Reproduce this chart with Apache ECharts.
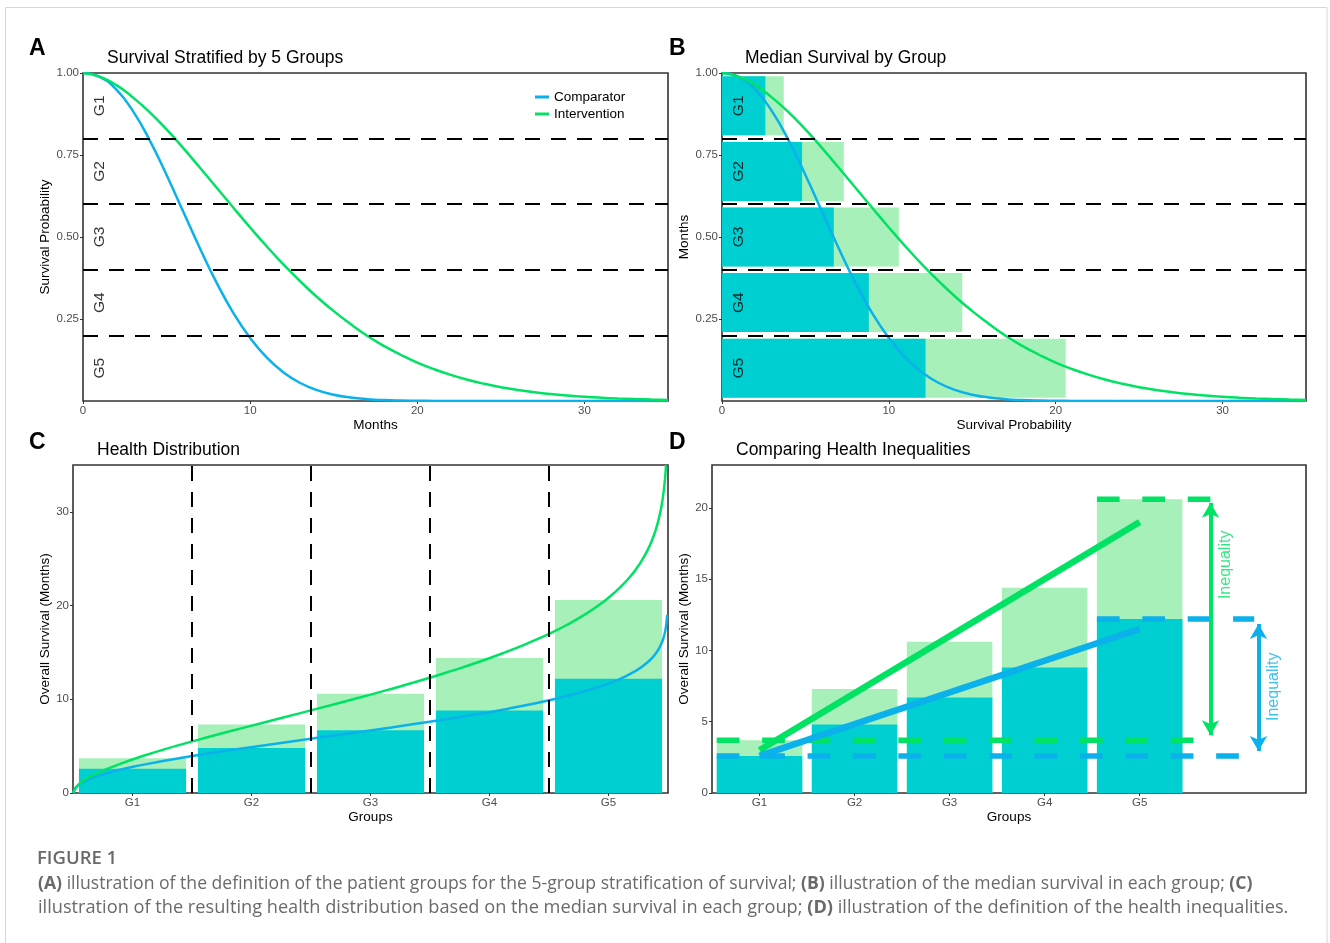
<!DOCTYPE html>
<html><head><meta charset="utf-8">
<script src="https://cdn.jsdelivr.net/npm/echarts@6/dist/echarts.min.js"></script>
<style>html,body{margin:0;padding:0;background:#fff}#c{width:1330px;height:943px}</style>
</head><body><div id="c"></div>
<script>
// ---------------- data ----------------
const groups = ['G1', 'G2', 'G3', 'G4', 'G5'];
const groupPos = [1, 2, 3, 4, 5];
const comparatorMedian = [2.6, 4.8, 6.7, 8.8, 12.2];
const interventionMedian = [3.7, 7.3, 10.6, 14.4, 20.6];
const months = [0,1,2,3,4,5,6,7,8,9,10,11,12,13,14,15,16,17,18,19,20,21,22,23,24,25,26,27,28,29,30,31,32,33,34,35];
const comparatorSurv = [1, 0.988, 0.949, 0.883, 0.794, 0.689, 0.577, 0.465, 0.360, 0.268, 0.192, 0.132, 0.0869, 0.0549, 0.0332, 0.0193, 0.0107, 0.0057, 0.0029, 0.0014, 0.0007, 0.0003, 0.0001, 0, 0, 0, 0, 0, 0, 0, 0, 0, 0, 0, 0, 0];
const interventionSurv = [1, 0.989, 0.963, 0.925, 0.880, 0.828, 0.771, 0.711, 0.650, 0.589, 0.529, 0.471, 0.416, 0.365, 0.317, 0.274, 0.235, 0.199, 0.168, 0.141, 0.117, 0.097, 0.0796, 0.0648, 0.0524, 0.0422, 0.0337, 0.0267, 0.0210, 0.0165, 0.0128, 0.0099, 0.0076, 0.0058, 0.0044, 0.0033];
const groupCuts = [0.2, 0.4, 0.6, 0.8];
const groupMid = [0.9, 0.7, 0.5, 0.3, 0.1];
const groupLabelMonth = 1;
const probTicks = [0.25, 0.5, 0.75, 1];
const monthTicks = [0, 10, 20, 30];
const osTicksC = [0, 10, 20, 30];
const osTicksD = [0, 5, 10, 15, 20];
// panel D annotations (data coordinates)
const trendX = [1, 5];
const interventionTrend = [3.0, 19.0];
const comparatorTrend = [2.6, 11.5];
const refStartX = [0.55, 4.55];           // start of low / high reference lines
const interventionRefEnd = [5.58, 5.745]; // end of low / high reference lines
const comparatorRefEnd = [6.06, 6.205];
const arrowX = [5.745, 6.25];             // intervention, comparator
const interventionArrow = [20.35, 4.05];
const comparatorArrow = [11.85, 2.95];
const inequalityText = 'Inequality';
const inequalityX = [5.905, 6.41];
const inequalityY = [16.0, 7.45];

// ---------------- styles ----------------
const FONT = '"Liberation Sans", Arial, Helvetica, sans-serif';
const CAPFONT = '"Open Sans", "Noto Sans", sans-serif';
const CAPCOLOR = '#6a6a6a';
const BLUE = '#0AB1EA', GREEN = '#00E264', CYAN = '#00CFD1', LIGHT = '#A8F0B9';
const tickLabel = { color: '#4d4d4d', fontSize: 11.5, fontFamily: FONT };
const nameStyle = { color: '#000', fontSize: 13.5, fontFamily: FONT };
const tick = { show: true, length: 3, lineStyle: { color: '#333', width: 1 } };
const gridStyle = { show: true, borderColor: '#333', borderWidth: 1.6, backgroundColor: 'transparent' };
const cutDash = [15, 11];
const SMOOTH = 0.5;

function valueAxis(o) {
  return Object.assign({
    type: 'value', axisLine: { show: false }, splitLine: { show: false },
    nameLocation: 'middle', nameTextStyle: nameStyle
  }, o);
}

const survCurve = s => months.map((m, i) => [m, s[i]]);
const distCurve = s => months.filter((m, i) => s[i] > 0.001).map(m => [1 - s[months.indexOf(m)], m]);
const gLabels = groups.map((g, i) => ({ name: g, value: [groupLabelMonth, groupMid[i]] }));

function cutLines(axis) {
  return {
    silent: true, symbol: 'none', label: { show: false }, animation: false,
    lineStyle: { type: cutDash, color: '#000', width: 2 },
    data: groupCuts.map(v => ({ [axis]: v }))
  };
}
function labelSeries(x, y) {
  return {
    type: 'scatter', xAxisIndex: x, yAxisIndex: y, data: gLabels, symbolSize: 1, silent: true,
    itemStyle: { color: 'transparent' },
    label: { show: true, formatter: '{b}', rotate: 90, position: 'inside', color: '#000', fontSize: 15.5, fontFamily: FONT }
  };
}
function barItem(color) {
  return function (params, api) {
    const x = api.value(0), y = api.value(1);
    const p0 = api.coord([x - 0.45, y]);
    const p1 = api.coord([x + 0.45, 0]);
    return { type: 'rect', shape: { x: p0[0], y: p0[1], width: p1[0] - p0[0], height: p1[1] - p0[1] }, style: { fill: color } };
  };
}
function refLine(y, x0, x1, color) {
  return {
    type: 'line', xAxisIndex: 4, yAxisIndex: 4, data: [[x0, y], [x1, y]], symbol: 'none', silent: true,
    lineStyle: { color: color, width: 5.5, type: [22.7, 22.7] }
  };
}
function arrowSeries(x, ends, color) {
  return {
    type: 'line', xAxisIndex: 4, yAxisIndex: 4, data: [], silent: true,
    markLine: {
      silent: true, animation: false, symbol: ['arrow', 'arrow'], symbolSize: [13, 15], label: { show: false },
      lineStyle: { color: color, width: 4, type: 'solid' },
      data: [[{ coord: [x, ends[0]] }, { coord: [x, ends[1]] }]]
    }
  };
}
function ineqLabel(i, color) {
  return {
    type: 'scatter', xAxisIndex: 4, yAxisIndex: 4, data: [[inequalityX[i], inequalityY[i]]], symbolSize: 1, silent: true,
    itemStyle: { color: 'transparent' },
    label: { show: true, formatter: inequalityText, rotate: 90, position: 'inside', color: color, fontSize: 16, fontFamily: FONT }
  };
}
function curve(name, x, y, data, color, extra) {
  return Object.assign({
    type: 'line', name: name, xAxisIndex: x, yAxisIndex: y, data: data, symbol: 'none', smooth: SMOOTH,
    lineStyle: { color: color, width: 2.5 }, itemStyle: { color: color }
  }, extra || {});
}

const option = {
  animation: false,
  backgroundColor: '#fff',
  grid: [
    Object.assign({ left: 83, top: 73, width: 585, height: 328 }, gridStyle),
    Object.assign({ left: 722, top: 73, width: 584, height: 328 }, gridStyle),
    Object.assign({ left: 73, top: 465, width: 595, height: 328 }, gridStyle),
    Object.assign({ left: 712, top: 465, width: 594, height: 328 }, gridStyle)
  ],
  xAxis: [
    valueAxis({ gridIndex: 0, min: 0, max: 35, axisTick: Object.assign({ customValues: monthTicks }, tick),
      axisLabel: Object.assign({ margin: 4, customValues: monthTicks }, tickLabel), name: 'Months', nameGap: 17 }),
    valueAxis({ gridIndex: 1, min: 0, max: 35, axisTick: Object.assign({ customValues: monthTicks }, tick),
      axisLabel: Object.assign({ margin: 4, customValues: monthTicks }, tickLabel), name: 'Survival Probability', nameGap: 17 }),
    { type: 'category', gridIndex: 2, data: groups, axisLine: { show: false }, splitLine: { show: false },
      axisTick: Object.assign({ alignWithLabel: true }, tick), axisLabel: Object.assign({ margin: 4 }, tickLabel),
      name: 'Groups', nameLocation: 'middle', nameGap: 17, nameTextStyle: nameStyle },
    { type: 'value', gridIndex: 2, min: 0, max: 1, show: false },
    valueAxis({ gridIndex: 3, min: 0.5, max: 6.75, axisTick: Object.assign({ customValues: groupPos }, tick),
      axisLabel: Object.assign({ margin: 4, customValues: groupPos, formatter: v => groups[Math.round(v) - 1] }, tickLabel),
      name: 'Groups', nameGap: 17 })
  ],
  yAxis: [
    valueAxis({ gridIndex: 0, min: 0, max: 1, axisTick: Object.assign({ customValues: probTicks }, tick),
      axisLabel: Object.assign({ margin: 4, customValues: probTicks, formatter: v => v.toFixed(2) }, tickLabel),
      name: 'Survival Probability', nameGap: 31 }),
    valueAxis({ gridIndex: 1, min: 0, max: 1, axisTick: Object.assign({ customValues: probTicks }, tick),
      axisLabel: Object.assign({ margin: 4, customValues: probTicks, formatter: v => v.toFixed(2) }, tickLabel),
      name: 'Months', nameGap: 31 }),
    { type: 'category', gridIndex: 1, data: groups, inverse: true, show: false },
    valueAxis({ gridIndex: 2, min: 0, max: 35, axisTick: Object.assign({ customValues: osTicksC }, tick),
      axisLabel: Object.assign({ margin: 4, customValues: osTicksC }, tickLabel),
      name: 'Overall Survival (Months)', nameGap: 21 }),
    valueAxis({ gridIndex: 3, min: 0, max: 23, axisTick: Object.assign({ customValues: osTicksD }, tick),
      axisLabel: Object.assign({ margin: 4, customValues: osTicksD }, tickLabel),
      name: 'Overall Survival (Months)', nameGap: 21 })
  ],
  legend: {
    data: ['Comparator', 'Intervention'], left: 535, top: 90, orient: 'vertical', icon: 'rect',
    itemWidth: 14, itemHeight: 3, itemGap: 3, padding: 0, selectedMode: false,
    textStyle: { fontSize: 13.5, fontFamily: FONT, color: '#000' }
  },
  series: [
    // ---- A ----
    curve('Comparator', 0, 0, survCurve(comparatorSurv), BLUE, { markLine: cutLines('yAxis') }),
    curve('Intervention', 0, 0, survCurve(interventionSurv), GREEN),
    labelSeries(0, 0),
    // ---- B ----
    { type: 'bar', name: 'Intervention median B', xAxisIndex: 1, yAxisIndex: 2, data: interventionMedian, barWidth: '90%', barGap: '-100%',
      itemStyle: { color: LIGHT }, silent: true },
    { type: 'bar', name: 'Comparator median B', xAxisIndex: 1, yAxisIndex: 2, data: comparatorMedian, barWidth: '90%', barGap: '-100%',
      itemStyle: { color: CYAN }, silent: true },
    curve('Comparator B', 1, 1, survCurve(comparatorSurv), BLUE, { markLine: cutLines('yAxis') }),
    curve('Intervention B', 1, 1, survCurve(interventionSurv), GREEN),
    labelSeries(1, 1),
    // ---- C ----
    { type: 'bar', name: 'Intervention median C', xAxisIndex: 2, yAxisIndex: 3, data: interventionMedian, barWidth: '90%', barGap: '-100%',
      itemStyle: { color: LIGHT }, silent: true },
    { type: 'bar', name: 'Comparator median C', xAxisIndex: 2, yAxisIndex: 3, data: comparatorMedian, barWidth: '90%', barGap: '-100%',
      itemStyle: { color: CYAN }, silent: true },
    curve('Comparator C', 3, 3, distCurve(comparatorSurv), BLUE, { markLine: cutLines('xAxis') }),
    curve('Intervention C', 3, 3, distCurve(interventionSurv), GREEN),
    // ---- D ----
    { type: 'custom', name: 'Intervention median D', xAxisIndex: 4, yAxisIndex: 4, renderItem: barItem(LIGHT), silent: true,
      encode: { x: 0, y: 1 }, data: groupPos.map((p, i) => [p, interventionMedian[i]]) },
    { type: 'custom', name: 'Comparator median D', xAxisIndex: 4, yAxisIndex: 4, renderItem: barItem(CYAN), silent: true,
      encode: { x: 0, y: 1 }, data: groupPos.map((p, i) => [p, comparatorMedian[i]]) },
    refLine(interventionMedian[0], refStartX[0], interventionRefEnd[0], GREEN),
    refLine(comparatorMedian[0], refStartX[0], comparatorRefEnd[0], BLUE),
    refLine(interventionMedian[4], refStartX[1], interventionRefEnd[1], GREEN),
    refLine(comparatorMedian[4], refStartX[1], comparatorRefEnd[1], BLUE),
    { type: 'line', name: 'Intervention trend', xAxisIndex: 4, yAxisIndex: 4, data: trendX.map((x, i) => [x, interventionTrend[i]]),
      symbol: 'none', silent: true, lineStyle: { color: GREEN, width: 6.5 } },
    { type: 'line', name: 'Comparator trend', xAxisIndex: 4, yAxisIndex: 4, data: trendX.map((x, i) => [x, comparatorTrend[i]]),
      symbol: 'none', silent: true, lineStyle: { color: BLUE, width: 6.5 } },
    arrowSeries(arrowX[0], interventionArrow, GREEN),
    arrowSeries(arrowX[1], comparatorArrow, BLUE),
    ineqLabel(0, GREEN),
    ineqLabel(1, BLUE)
  ],
  graphic: [
    { type: 'rect', silent: true, shape: { x: 5.5, y: 7.5, width: 1321.5, height: 960 }, style: { fill: 'none', stroke: '#d6d6d6', lineWidth: 1 } },
    { type: 'text', x: 29, y: 49, style: { text: 'A', font: 'bold 23px ' + FONT, fill: '#000', verticalAlign: 'middle' } },
    { type: 'text', x: 669, y: 49, style: { text: 'B', font: 'bold 23px ' + FONT, fill: '#000', verticalAlign: 'middle' } },
    { type: 'text', x: 29, y: 443, style: { text: 'C', font: 'bold 23px ' + FONT, fill: '#000', verticalAlign: 'middle' } },
    { type: 'text', x: 669, y: 443, style: { text: 'D', font: 'bold 23px ' + FONT, fill: '#000', verticalAlign: 'middle' } },
    { type: 'text', x: 107, y: 58, style: { text: 'Survival Stratified by 5 Groups', font: '17.5px ' + FONT, fill: '#000', verticalAlign: 'middle' } },
    { type: 'text', x: 745, y: 58, style: { text: 'Median Survival by Group', font: '17.5px ' + FONT, fill: '#000', verticalAlign: 'middle' } },
    { type: 'text', x: 97, y: 450, style: { text: 'Health Distribution', font: '17.5px ' + FONT, fill: '#000', verticalAlign: 'middle' } },
    { type: 'text', x: 736, y: 450, style: { text: 'Comparing Health Inequalities', font: '17.5px ' + FONT, fill: '#000', verticalAlign: 'middle' } },
    { type: 'text', x: 37, y: 859, style: { text: 'FIGURE 1', font: '600 18.5px ' + CAPFONT, fill: CAPCOLOR, verticalAlign: 'middle' } },
    { type: 'text', x: 38, y: 884, style: {
      text: '{b|(A)} illustration of the definition of the patient groups for the 5-group stratification of survival; {b|(B)} illustration of the median survival in each group; {b|(C)}',
      font: '17.6px ' + CAPFONT, fill: CAPCOLOR, verticalAlign: 'middle',
      rich: { b: { fontWeight: 'bold', fontSize: 17.6, fontFamily: CAPFONT, fill: CAPCOLOR } } } },
    { type: 'text', x: 38, y: 908, style: {
      text: 'illustration of the resulting health distribution based on the median survival in each group; {b|(D)} illustration of the definition of the health inequalities.',
      font: '18.2px ' + CAPFONT, fill: CAPCOLOR, verticalAlign: 'middle',
      rich: { b: { fontWeight: 'bold', fontSize: 18.2, fontFamily: CAPFONT, fill: CAPCOLOR } } } }
  ]
};

const chart = echarts.init(document.getElementById('c'), null, { renderer: 'canvas' });
chart.setOption(option);
</script>
</body></html>
